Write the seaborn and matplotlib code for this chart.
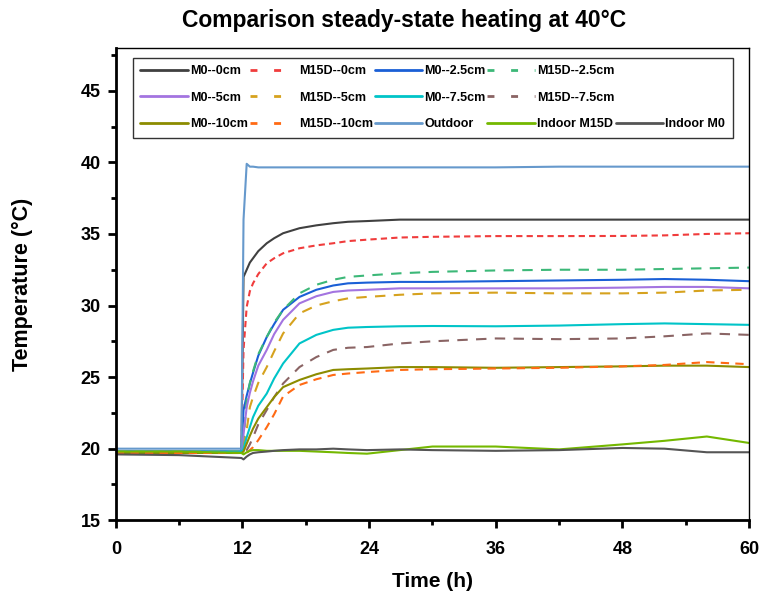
import matplotlib
matplotlib.use("Agg")
import matplotlib.pyplot as plt
import seaborn as sns
import pandas as pd
from matplotlib.lines import Line2D
from matplotlib.ticker import MultipleLocator

# sample times (h)
time_h = [0, 6, 11.9, 12.1, 12.4, 12.7, 13, 13.5, 14.3, 15, 15.85, 17.4, 19, 20.6,
          22, 23.8, 26.9, 30, 36, 42, 48, 52, 56, 60]

outdoor = [20.0, 20.0, 20.0, 36.0, 39.9, 39.7, 39.7, 39.65, 39.65, 39.65, 39.65, 39.65,
           39.65, 39.65, 39.65, 39.65, 39.65, 39.65, 39.65, 39.7, 39.7, 39.7, 39.7, 39.7]
m0_0 = [19.8, 19.8, 19.8, 32.0, 32.5, 33.0, 33.3, 33.8, 34.35, 34.7, 35.05, 35.4, 35.6,
        35.75, 35.85, 35.9, 36.0, 36.0, 36.0, 36.0, 36.0, 36.0, 36.0, 36.0]
m15_0 = [19.8, 19.8, 19.8, 26.9, 29.9, 31.0, 31.55, 32.2, 32.95, 33.3, 33.65, 34.0, 34.2,
         34.35, 34.5, 34.6, 34.75, 34.8, 34.85, 34.85, 34.86, 34.9, 35.0, 35.05]
m0_25 = [19.8, 19.8, 19.8, 22.7, 23.7, 24.55, 25.3, 26.5, 27.8, 28.7, 29.7, 30.6, 31.1,
         31.4, 31.55, 31.6, 31.65, 31.65, 31.7, 31.75, 31.8, 31.85, 31.8, 31.7]
m15_25 = [19.8, 19.8, 19.8, 20.5, 23.4, 24.6, 25.4, 26.6, 27.8, 28.8, 29.7, 30.85, 31.45,
          31.8, 32.0, 32.1, 32.25, 32.35, 32.45, 32.5, 32.5, 32.55, 32.6, 32.65]
m0_5 = [19.8, 19.8, 19.8, 21.0, 22.9, 23.9, 24.7, 25.8, 26.9, 28.0, 29.0, 30.15, 30.65,
        30.95, 31.05, 31.1, 31.2, 31.2, 31.2, 31.2, 31.25, 31.3, 31.3, 31.2]
m15_5 = [19.8, 19.8, 19.8, 20.0, 21.3, 22.9, 23.6, 24.6, 25.7, 26.8, 28.05, 29.45, 30.0,
         30.3, 30.5, 30.6, 30.75, 30.85, 30.9, 30.85, 30.85, 30.9, 31.05, 31.1]
m0_75 = [19.8, 19.8, 19.8, 20.0, 20.8, 21.5, 22.2, 23.0, 23.85, 24.9, 25.95, 27.35, 27.95,
         28.3, 28.45, 28.5, 28.55, 28.57, 28.55, 28.6, 28.7, 28.75, 28.7, 28.65]
m15_75 = [19.7, 19.7, 19.7, 19.7, 19.9, 20.3, 20.8, 21.7, 22.7, 23.6, 24.55, 25.7, 26.4,
          26.9, 27.05, 27.1, 27.35, 27.5, 27.7, 27.65, 27.7, 27.85, 28.05, 27.95]
m0_10 = [19.7, 19.7, 19.7, 19.8, 20.35, 20.9, 21.4, 22.1, 22.9, 23.6, 24.3, 24.8, 25.2,
         25.5, 25.55, 25.6, 25.7, 25.7, 25.65, 25.7, 25.75, 25.8, 25.8, 25.7]
m15_10 = [19.7, 19.7, 19.7, 19.7, 19.7, 19.9, 20.1, 20.6, 21.5, 22.4, 23.65, 24.45, 24.85,
          25.15, 25.25, 25.35, 25.5, 25.55, 25.6, 25.65, 25.75, 25.85, 26.05, 25.9]
indoor_m15 = [19.8, 19.8, 19.7, 19.6, 19.75, 19.85, 19.9, 19.9, 19.85, 19.85, 19.85, 19.85,
              19.8, 19.75, 19.7, 19.65, 19.9, 20.15, 20.15, 19.95, 20.3, 20.55, 20.85, 20.4]
indoor_m0 = [19.6, 19.55, 19.35, 19.25, 19.45, 19.6, 19.7, 19.75, 19.8, 19.85, 19.9, 19.95,
             19.95, 20.0, 19.95, 19.9, 19.95, 19.9, 19.85, 19.9, 20.05, 20.0, 19.75, 19.75]

series = {
    "M0--0cm": (m0_0, "#404040", "-"),
    "M15D--0cm": (m15_0, "#f03c3c", (0, (3, 2))),
    "M0--2.5cm": (m0_25, "#1a5fd6", "-"),
    "M15D--2.5cm": (m15_25, "#3cb878", (0, (5, 4))),
    "M0--5cm": (m0_5, "#a374e0", "-"),
    "M15D--5cm": (m15_5, "#d6a21e", (0, (5, 4))),
    "M0--7.5cm": (m0_75, "#00c4c8", "-"),
    "M15D--7.5cm": (m15_75, "#8a6464", (0, (5, 4))),
    "M0--10cm": (m0_10, "#8c8c00", "-"),
    "M15D--10cm": (m15_10, "#ff6a14", (0, (4, 3))),
    "Outdoor": (outdoor, "#6699cc", "-"),
    "Indoor M15D": (indoor_m15, "#74b800", "-"),
    "Indoor M0": (indoor_m0, "#555555", "-"),
}

sns.set_style("ticks")
plt.rcParams['font.family'] = ['Liberation Sans', 'DejaVu Sans']
plt.rcParams['font.weight'] = 'bold'
for key in ['text.color', 'axes.labelcolor', 'xtick.color', 'ytick.color', 'axes.edgecolor']:
    plt.rcParams[key] = 'black'

fig = plt.figure(figsize=(7.62, 5.98), dpi=100)
ax = fig.add_axes([0.152, 0.130, 0.831, 0.790])

handles = {}
for name, (vals, col, ls) in series.items():
    df = pd.DataFrame({"t": time_h, "T": vals})
    sns.lineplot(data=df, x="t", y="T", ax=ax, color=col, linestyle=ls, linewidth=1.5,
                 label=name, legend=False)
    # legend dashes are sparser than the plotted ones
    leg_ls = "-" if ls == "-" else (0, (2.5, 6))
    handles[name] = Line2D([], [], color=col, linestyle=leg_ls, linewidth=2)

ax.set_xlim(0, 60)
ax.set_ylim(15, 48)
ax.xaxis.set_major_locator(MultipleLocator(12))
ax.xaxis.set_minor_locator(MultipleLocator(6))
ax.yaxis.set_minor_locator(MultipleLocator(2.5))
ax.set_yticks([15, 20, 25, 30, 35, 40, 45])
ax.tick_params(axis='both', which='major', direction='out', length=6, width=2,
               labelsize=13)
ax.tick_params(axis='x', which='major', pad=9)
ax.tick_params(axis='y', which='major', pad=5)
ax.tick_params(axis='both', which='minor', direction='out', length=3.5, width=2)
for lab in ax.get_xticklabels() + ax.get_yticklabels():
    lab.set_fontweight('bold')
for side in ['left', 'bottom']:
    ax.spines[side].set_linewidth(2)
for side in ['top', 'right']:
    ax.spines[side].set_linewidth(1)

ax.set_xlabel("Time (h)", fontsize=15, fontweight='bold', labelpad=10)
ax.set_ylabel("Temperature (°C)", fontsize=15.5, fontweight='bold', labelpad=34)
fig.suptitle("Comparison steady-state heating at 40°C", fontsize=16.5, fontweight='bold',
             x=0.530, y=0.985)

blank = Line2D([], [], linestyle='none')
order = [
    ("M0--0cm", "M0--5cm", "M0--10cm"),
    ("M15D--0cm", "M15D--5cm", "M15D--10cm"),
    ("M0--2.5cm", "M0--7.5cm", "Outdoor"),
    ("M15D--2.5cm", "M15D--7.5cm", "Indoor M15D"),
    (None, None, "Indoor M0"),
]
leg_h, leg_l = [], []
for col in order:
    for n in col:
        if n is None:
            leg_h.append(blank)
            leg_l.append("")
        else:
            leg_h.append(handles[n])
            leg_l.append(n)
leg = ax.legend(leg_h, leg_l, ncol=5, loc='upper left', bbox_to_anchor=(0.027, 0.979),
                borderaxespad=0, frameon=True, fancybox=False, edgecolor='black',
                fontsize=9, handlelength=3.8, handletextpad=0.15, columnspacing=0.15,
                labelspacing=1.15, borderpad=0.6)
leg.get_frame().set_linewidth(1)
for txt in leg.get_texts():
    txt.set_fontweight('bold')

fig.savefig("out.png", dpi=100)
